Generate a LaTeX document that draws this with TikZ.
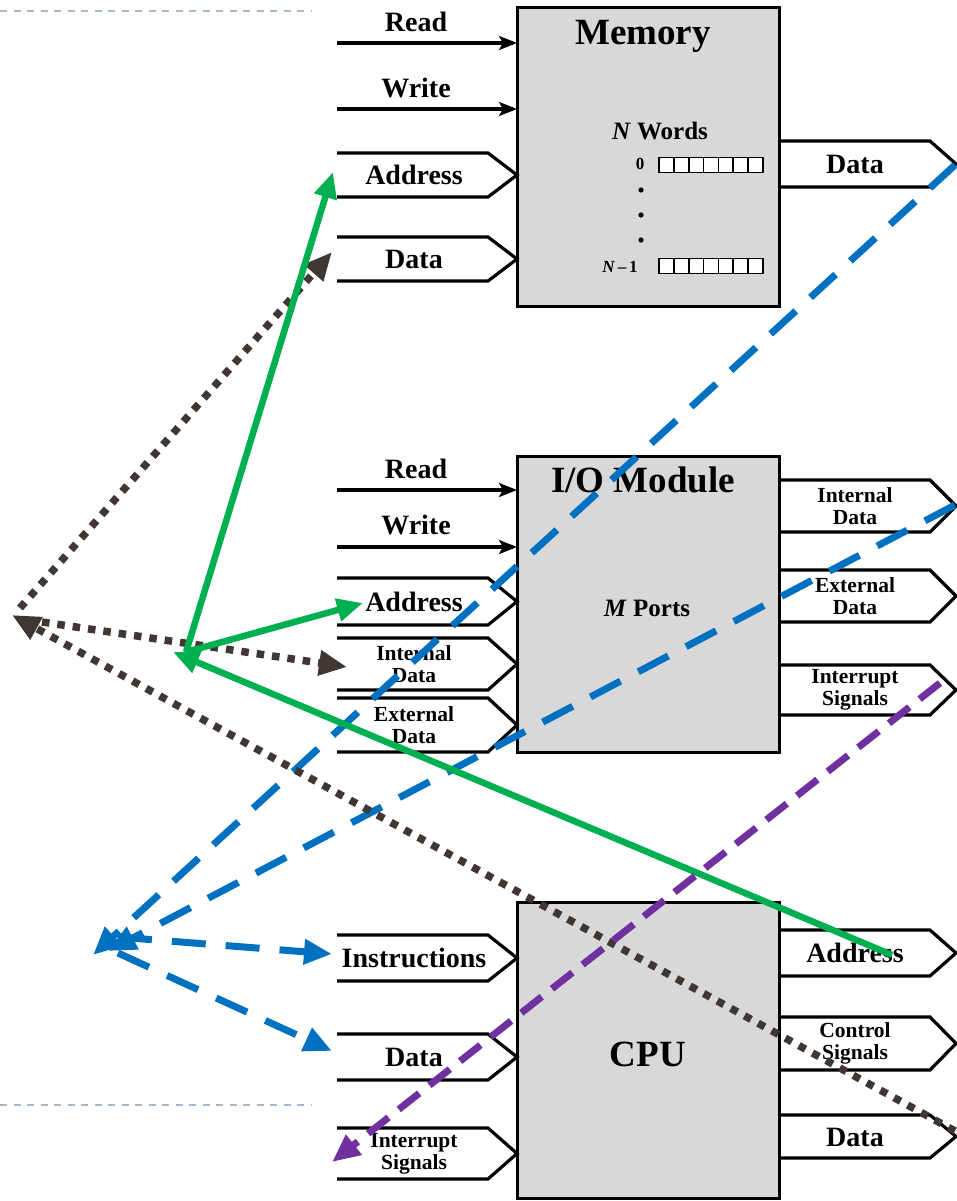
\documentclass[tikz,border=0pt]{standalone}
\usepackage{fontspec}
\setmainfont{Liberation Serif}
\usetikzlibrary{arrows.meta}
\definecolor{boxgray}{RGB}{216,216,216}
\definecolor{ggreen}{RGB}{0,176,80}
\definecolor{bblue}{RGB}{0,112,192}
\definecolor{bbrown}{RGB}{64,54,50}
\definecolor{ppurple}{RGB}{112,48,160}
\definecolor{sepgray}{RGB}{167,186,205}
\newcommand\inport[5]{%
  \draw[port] (337,#2) -- (488,#2) -- (517,{(#2+#3)/2}) -- (488,#3) -- (337,#3);
  \node[#4] (#1) at (414,{(#2+#3)/2}) {#5};}
\newcommand\outport[5]{%
  \draw[port] (779,#2) -- (930,#2) -- (956,{(#2+#3)/2}) -- (930,#3) -- (779,#3);
  \node[#4] (#1) at (855,{(#2+#3)/2}) {#5};}
\begin{document}
\begin{tikzpicture}[x=1pt,y=-1pt,
  box/.style={draw=black, line width=3pt, fill=boxgray, inner sep=0},
  port/.style={draw=black, line width=3.2pt, line join=miter},
  sig/.style={line width=3.2pt, -{Stealth[length=18pt,width=14pt,inset=4pt]}},
  lbl/.style={font=\fontsize{28}{30}\selectfont\bfseries, inner sep=0, text height=19pt, text depth=0pt},
  lbltwo/.style={font=\fontsize{21.5}{22}\selectfont\bfseries, inner sep=0, align=center},
  ttl/.style={font=\fontsize{37}{40}\selectfont\bfseries, inner sep=0, anchor=base},
  inner/.style={font=\fontsize{25}{28}\selectfont\bfseries, inner sep=0, anchor=base},
  idx/.style={font=\fontsize{17}{20}\selectfont\bfseries, inner sep=0, anchor=base},
  cell/.style={draw=black, line width=1.6pt, fill=white},
  sep/.style={draw=sepgray, line width=2pt, dash pattern=on 7pt off 6.5pt},
  greenarr/.style={draw=ggreen, line width=6.5pt, -{Triangle[length=26pt,width=22pt]}},
  bluearr/.style={draw=bblue, line width=7pt, dash pattern=on 34pt off 20pt, -{Triangle[length=28pt,width=24pt]}},
  brownarr/.style={draw=bbrown, line width=7.5pt, dash pattern=on 7.5pt off 8pt, -{Triangle[length=28pt,width=24pt]}},
  purplearr/.style={draw=ppurple, line width=7pt, dash pattern=on 26pt off 13pt, -{Triangle[length=28pt,width=24pt]}}
]
\useasboundingbox (0,0) rectangle (956,1201);

% separator lines
\coordinate (sepTa) at (0,11);
\coordinate (sepTb) at (311,11);
\coordinate (sepBa) at (0,1105);
\coordinate (sepBb) at (311,1105);
\draw[sep] (sepTa) -- (sepTb);
\draw[sep] (sepBa) -- (sepBb);

% ---------------- Memory ----------------
\node[box, minimum width=262pt, minimum height=298pt] (mem) at (648,157) {};
\node[ttl] (memTitle) at (643,45) {Memory};
\node[inner] (memWords) at (660,140) {\textit{N} Words};
\node[idx] (memZero) at (640,170) {0};
\node[idx] (memLast) at (620,272) {\textit{N}\,–\,1};
\foreach \i in {0,...,6}{
  \draw[cell] ({659+\i*14.857},157.5) rectangle ++(14.857,15);
  \draw[cell] ({659+\i*14.857},258.5) rectangle ++(14.857,15);
}
\foreach \yy in {190,215,240}{ \fill (641,\yy) circle (2.6pt); }

\coordinate (memRdS) at (337,43);
\coordinate (memRdE) at (517,43);
\coordinate (memWrS) at (337,109);
\coordinate (memWrE) at (517,109);
\draw[sig] (memRdS) -- (memRdE);
\draw[sig] (memWrS) -- (memWrE);
\node[lbl] (memRead) at (416,22) {Read};
\node[lbl] (memWrite) at (416,88) {Write};
\inport{memAddr}{153}{197}{lbl}{Address}
\inport{memData}{237}{281}{lbl}{Data}
\outport{memDataOut}{141}{187}{lbl}{Data}

% ---------------- I/O Module ----------------
\node[box, minimum width=262pt, minimum height=296pt] (io) at (648,604) {};
\node[ttl] (ioTitle) at (643,492) {I/O Module};
\node[inner] (ioPorts) at (647,616) {\textit{M} Ports};

\coordinate (ioRdS) at (337,490);
\coordinate (ioRdE) at (517,490);
\coordinate (ioWrS) at (337,547);
\coordinate (ioWrE) at (517,547);
\draw[sig] (ioRdS) -- (ioRdE);
\draw[sig] (ioWrS) -- (ioWrE);
\node[lbl] (ioRead) at (416,469) {Read};
\node[lbl] (ioWrite) at (416,525) {Write};
\inport{ioAddr}{578}{625}{lbl}{Address}
\inport{ioIntIn}{638}{690}{lbltwo}{Internal\\Data}
\inport{ioExtIn}{698}{752}{lbltwo}{External\\Data}
\outport{ioIntOut}{480}{532}{lbltwo}{Internal\\Data}
\outport{ioExtOut}{570}{622}{lbltwo}{External\\Data}
\outport{ioIrqOut}{665}{715}{lbltwo}{Interrupt\\Signals}

% ---------------- CPU ----------------
\node[box, minimum width=262pt, minimum height=296pt] (cpu) at (648,1050.5) {};
\node[ttl] (cpuTitle) at (648,1066) {CPU};
\inport{cpuInstr}{935}{981}{lbl}{Instructions}
\inport{cpuData}{1034}{1080}{lbl}{Data}
\inport{cpuIrq}{1128}{1179}{lbltwo}{Interrupt\\Signals}
\outport{cpuAddr}{930}{976}{lbl}{Address}
\outport{cpuCtrl}{1017}{1070}{lbltwo}{Control\\Signals}
\outport{cpuDataOut}{1115}{1158}{lbl}{Data}

% ---------------- coloured connectors ----------------
% blue (data / instructions)
\coordinate (uSrcMem) at (955,165);
\coordinate (uHubA) at (93,955);
\coordinate (uSrcIO) at (955,505);
\coordinate (uHubB) at (108,951);
\coordinate (uHubI) at (118,937);
\coordinate (uInstr) at (332,954);
\coordinate (uHubD) at (118,953);
\coordinate (uData) at (332,1051);
\draw[bluearr] (uSrcMem) -- (uHubA);
\draw[bluearr] (uSrcIO) -- (uHubB);
\draw[bluearr] (uHubI) -- (uInstr);
\draw[bluearr] (uHubD) -- (uData);

% brown (data out of CPU)
\coordinate (bSrc) at (955,1131);
\coordinate (bHub) at (12,615);
\coordinate (bHubM) at (20,608);
\coordinate (bMem) at (332,252);
\coordinate (bHubI) at (42,622);
\coordinate (bIO) at (347,667);
\draw[brownarr] (bSrc) -- (bHub);
\draw[brownarr] (bHubM) -- (bMem);
\draw[brownarr] (bHubI) -- (bIO);

% green (address)
\coordinate (gSrc) at (892,955);
\coordinate (gHub) at (173,652);
\coordinate (gHubOut) at (186,652);
\coordinate (gMem) at (333,172);
\coordinate (gIO) at (363,603);
\draw[greenarr] (gSrc) -- (gHub);
\draw[greenarr] (gHubOut) -- (gMem);
\draw[greenarr] (gHubOut) -- (gIO);

% purple (interrupt)
\coordinate (pSrc) at (940,683);
\coordinate (pDst) at (332,1162);
\draw[purplearr] (pSrc) -- (pDst);
\end{tikzpicture}
\end{document}
